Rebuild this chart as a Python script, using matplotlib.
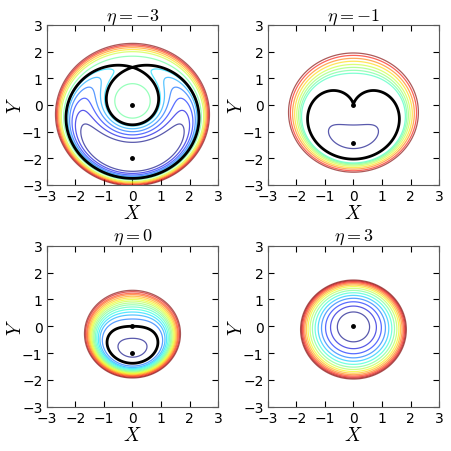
import numpy as np
import matplotlib
matplotlib.use('Agg')
import matplotlib.pyplot as plt

plt.rcParams['mathtext.fontset'] = 'cm'
plt.rcParams['font.family'] = 'DejaVu Sans'

# panel parameters (one entry per panel)
eta = [-3, -1, 0, 3]
B = [-3.0, 0.931, 0.391, 3.0]     # quadratic term
G = [0.0, -1.518, 0.0, 0.0]       # cone term
F = [0.797, 1.518, 0.927, -0.69]  # tilt term
d = [0.1675, 0.0, 0.0, 0.23]      # vertical shift

# contour positions (points on each ring)
ring_x = [
    [0] * 13,
    [0] * 9,
    [0] * 16,
    [0.563, 0.80, 0.974, 1.115, 1.232, 1.338, 1.432, 1.514, 1.585, 1.643,
     1.695, 1.74, 1.78, 1.815, 1.845],
]
ring_y = [
    [-1.40, -1.25, -1.12, -1.0, -0.89, -0.79, 1.83, 2.0, 2.08, 2.15, 2.21,
     2.26, 2.31],
    [-0.75, 1.19, 1.30, 1.41, 1.52, 1.64, 1.75, 1.86, 1.95],
    [-0.45, 0.27, 0.42, 0.53, 0.63, 0.72, 0.80, 0.87, 0.94, 1.00, 1.06, 1.12,
     1.18, 1.23, 1.29, 1.34],
    [0.0] * 15,
]
# a point on the thick black curve (None = no curve)
black_pt = [(0, 1.41), (0, 0.0), (0, 0.0), None]
# marked points
dot_y = [[0, -2.0], [0, -1.414], [0, -1.0], [0]]


def ham(x, y, k):
    u = y + d[k]
    r2 = x**2 + u**2
    return r2**2 / 4 + B[k] * r2 / 2 + G[k] * np.sqrt(r2) + F[k] * u


g = np.linspace(-3, 3, 601)
X, Y = np.meshgrid(g, g)

fig = plt.figure(figsize=(4.52, 4.52), dpi=100, facecolor='white')
pos = [[0.1033, 0.5885, 0.3796, 0.354],
       [0.5922, 0.5885, 0.3796, 0.354],
       [0.1033, 0.098, 0.3796, 0.356],
       [0.5922, 0.098, 0.3796, 0.356]]

for k in range(4):
    ax = fig.add_axes(pos[k])
    H = ham(X, Y, k)
    lv = np.sort(ham(np.array(ring_x[k], float), np.array(ring_y[k], float), k))
    ax.contour(X, Y, H, levels=lv, cmap='jet', alpha=0.65, linewidths=0.9,
               linestyles='solid')
    if black_pt[k] is not None:
        hb = ham(black_pt[k][0], black_pt[k][1], k)
        ax.contour(X, Y, H, levels=[hb], colors='k', linewidths=2,
                   linestyles='solid')
    ax.plot(np.zeros(len(dot_y[k])), dot_y[k], 'k.', ms=5)
    ax.set_xlim(-3, 3)
    ax.set_ylim(-3, 3)
    ax.set_xticks(range(-3, 4))
    ax.set_yticks(range(-3, 4))
    ax.tick_params(direction='in', top=True, right=True, labelsize=10,
                   length=4, pad=3)
    for s in ax.spines.values():
        s.set_color('0.35')
    ax.set_title(r'$\eta=%d$' % eta[k], fontsize=13, pad=4)
    ax.set_xlabel(r'$X$', fontsize=14, labelpad=0)
    ax.set_ylabel(r'$Y$', fontsize=14, labelpad=-2)

fig.savefig('out.png', dpi=100, facecolor='white')
